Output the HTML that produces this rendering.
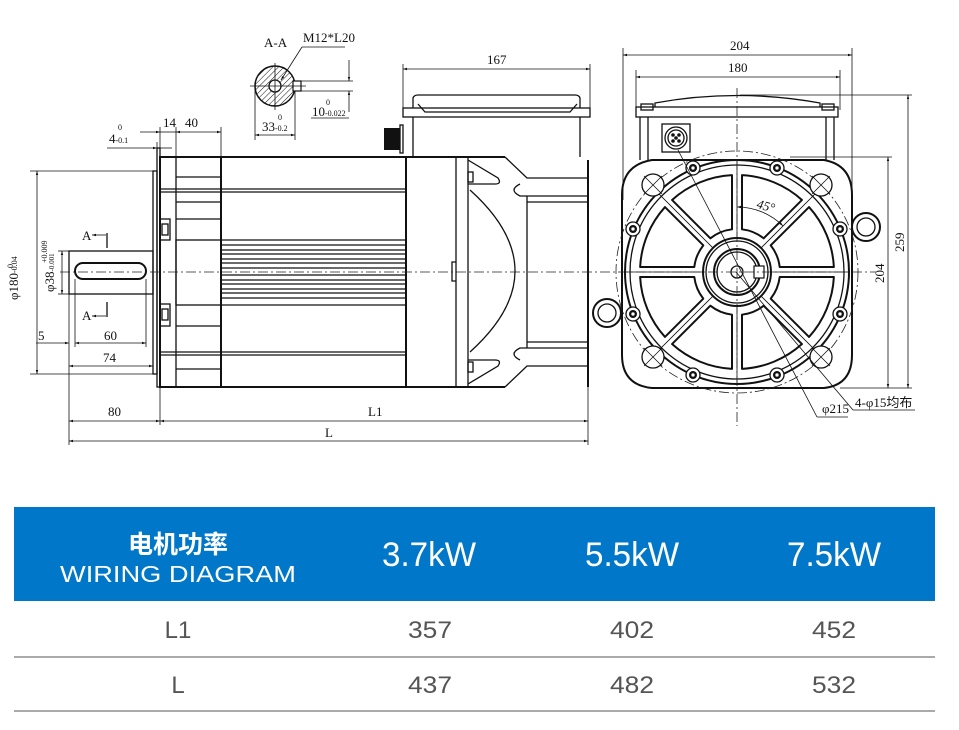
<!DOCTYPE html>
<html><head><meta charset="utf-8"><style>
html,body{margin:0;padding:0;background:#fff;}
svg{display:block;}
.l{fill:none;stroke:#111;stroke-width:1.3}
.t{fill:none;stroke:#111;stroke-width:2}
.th{fill:none;stroke:#111;stroke-width:0.8}
.c{fill:none;stroke:#222;stroke-width:0.8;stroke-dasharray:10 3 2 3}
.d{font-family:"Liberation Serif",serif;font-size:13px;fill:#111}
.s{font-family:"Liberation Serif",serif;font-size:8px;fill:#111}
</style></head><body>
<svg width="959" height="730" viewBox="0 0 959 730" xmlns="http://www.w3.org/2000/svg">
<defs>
<marker id="a" viewBox="0 0 10 10" refX="10" refY="5" markerWidth="8" markerHeight="5" orient="auto-start-reverse"><path d="M0 2 L10 5 L0 8z" fill="#111"/></marker>
<pattern id="h" width="4" height="4" patternUnits="userSpaceOnUse" patternTransform="rotate(45)"><line x1="0" y1="0" x2="0" y2="4" stroke="#111" stroke-width="1"/></pattern>
</defs>
<rect width="959" height="730" fill="#fff"/>

<!-- ===== SIDE VIEW ===== -->
<g>
<!-- shaft -->
<rect x="69" y="251" width="84" height="43" class="l"/>
<rect x="75" y="263" width="71" height="16" rx="8" class="t" stroke-width="1.5"/>
<!-- pilot / flange -->
<rect x="153" y="171" width="4" height="203" class="l"/>
<rect x="157" y="148" width="3" height="239" class="l"/>
<!-- front end bell -->
<rect x="160" y="157" width="246" height="230" class="t"/>
<line x1="176" y1="157" x2="176" y2="387" class="l"/>
<line x1="221" y1="157" x2="221" y2="387" class="t"/>
<line x1="160" y1="189" x2="406" y2="189" class="l"/>
<line x1="160" y1="192" x2="406" y2="192" class="l"/>
<line x1="160" y1="352" x2="406" y2="352" class="l"/>
<line x1="160" y1="355" x2="406" y2="355" class="l"/>
<line x1="176" y1="177" x2="221" y2="177" class="l"/>
<line x1="176" y1="202" x2="221" y2="202" class="l"/>
<line x1="176" y1="219" x2="221" y2="219" class="l"/>
<rect x="176" y="240" width="45" height="65" class="l"/>
<line x1="176" y1="326" x2="221" y2="326" class="l"/>
<line x1="176" y1="369" x2="221" y2="369" class="l"/>
<rect x="160" y="219" width="10" height="21" class="l"/><rect x="162" y="224" width="6" height="11" class="l"/>
<rect x="160" y="304" width="10" height="22" class="l"/><rect x="162" y="309" width="6" height="11" class="l"/>
<!-- fins -->
<g class="l">
<line x1="221" y1="240" x2="406" y2="240"/><line x1="221" y1="245" x2="406" y2="245"/>
<line x1="221" y1="250" x2="406" y2="250"/><line x1="221" y1="254" x2="406" y2="254"/>
<line x1="221" y1="259" x2="406" y2="259"/><line x1="221" y1="263" x2="406" y2="263"/>
<line x1="221" y1="268" x2="406" y2="268"/><line x1="221" y1="275" x2="406" y2="275"/>
<line x1="221" y1="280" x2="406" y2="280"/><line x1="221" y1="284" x2="406" y2="284"/>
<line x1="221" y1="289" x2="406" y2="289"/><line x1="221" y1="293" x2="406" y2="293"/>
<line x1="221" y1="298" x2="406" y2="298"/><line x1="221" y1="305" x2="406" y2="305"/>
</g>
<!-- rear section -->
<line x1="406" y1="157" x2="505" y2="157" class="t"/>
<line x1="406" y1="387" x2="505" y2="387" class="t"/>
<line x1="456" y1="157" x2="456" y2="387" class="l"/>
<line x1="468" y1="157" x2="468" y2="387" class="l"/>
<path d="M456 262 L452 262 L452 281 L456 281" class="l"/>
<path d="M468 160 L498 178 Q502 184 495 184 L468 184" class="l"/>
<rect x="468" y="172" width="5" height="10" class="l"/>
<path d="M468 384 L498 366 Q502 360 495 360 L468 360" class="l"/>
<rect x="468" y="362" width="5" height="10" class="l"/>
<path d="M505 157 L527 178 L588 178" class="l"/>
<path d="M505 387 L527 366 L588 366" class="l"/>
<path d="M520 184 Q508 190 520 196 L588 196" class="l"/>
<path d="M520 360 Q508 354 520 348 L588 348" class="l"/>
<path d="M527 196 L527 348" class="l"/>
<line x1="527" y1="202" x2="588" y2="202" class="l"/>
<line x1="527" y1="342" x2="588" y2="342" class="l"/>
<path d="M470 190 Q560 271 470 352" class="l"/>
<line x1="588" y1="160" x2="588" y2="387" class="t"/>
<!-- terminal box -->
<rect x="403" y="108" width="187" height="9" class="l"/>
<line x1="413" y1="117" x2="413" y2="157" class="l"/>
<line x1="580" y1="117" x2="580" y2="157" class="l"/>
<path d="M413 108 L413 98 Q414 95 418 95 L575 95 Q579 95 580 98 L580 108" class="l"/>
<path d="M418 104 L425 112 L570 112 L577 104" class="l"/>
<rect x="384" y="128" width="16" height="22" fill="#111"/>
<rect x="400" y="125" width="3" height="28" class="l"/>
<!-- centerline -->
<line x1="60" y1="272" x2="598" y2="272" class="c"/>
<!-- section marks -->
<text x="82" y="240" class="d" font-size="11">A</text><line x1="92" y1="235" x2="106" y2="235" class="th" marker-end="url(#a)" transform="rotate(180 99 235)"/><line x1="107" y1="233" x2="107" y2="248" class="l"/>
<text x="82" y="320" class="d" font-size="11">A</text><line x1="92" y1="316" x2="106" y2="316" class="th" marker-end="url(#a)" transform="rotate(180 99 316)"/><line x1="107" y1="302" x2="107" y2="317" class="l"/>
<!-- dims left -->
<g class="th">
<line x1="30" y1="171" x2="153" y2="171"/><line x1="30" y1="374" x2="153" y2="374"/>
<line x1="37" y1="171" x2="37" y2="374" marker-start="url(#a)" marker-end="url(#a)"/>
<line x1="58" y1="251" x2="69" y2="251"/><line x1="58" y1="294" x2="69" y2="294"/>
<line x1="62" y1="251" x2="62" y2="294" marker-start="url(#a)" marker-end="url(#a)"/>
<line x1="36" y1="343" x2="69" y2="343" marker-end="url(#a)"/>
<line x1="75" y1="279" x2="75" y2="347"/><line x1="146" y1="279" x2="146" y2="347"/>
<line x1="75" y1="343" x2="146" y2="343" marker-start="url(#a)" marker-end="url(#a)"/>
<line x1="69" y1="294" x2="69" y2="445"/><line x1="153" y1="374" x2="153" y2="370"/>
<line x1="69" y1="366" x2="153" y2="366" marker-start="url(#a)" marker-end="url(#a)"/>
<line x1="160" y1="387" x2="160" y2="425"/>
<line x1="69" y1="421" x2="160" y2="421" marker-start="url(#a)" marker-end="url(#a)"/>
<line x1="160" y1="421" x2="588" y2="421" marker-start="url(#a)" marker-end="url(#a)"/>
<line x1="588" y1="387" x2="588" y2="445"/>
<line x1="69" y1="441" x2="588" y2="441" marker-start="url(#a)" marker-end="url(#a)"/>
<!-- top dims -->
<line x1="107" y1="148" x2="157" y2="148" marker-end="url(#a)"/><line x1="160" y1="148" x2="172" y2="148"/>
<line x1="140" y1="132" x2="160" y2="132" marker-end="url(#a)"/>
<line x1="160" y1="132" x2="176" y2="132"/>
<line x1="176" y1="132" x2="221" y2="132" marker-start="url(#a)" marker-end="url(#a)"/>
<line x1="160" y1="127" x2="160" y2="148"/><line x1="157" y1="142" x2="157" y2="157"/><line x1="176" y1="127" x2="176" y2="157"/><line x1="221" y1="127" x2="221" y2="157"/>
<line x1="403" y1="64" x2="403" y2="108"/><line x1="590" y1="64" x2="590" y2="108"/>
<line x1="403" y1="69" x2="590" y2="69" marker-start="url(#a)" marker-end="url(#a)"/>
</g>
<text x="18" y="300" class="d" transform="rotate(-90 18 300)">φ180<tspan font-size="8" dy="-1">-0.04</tspan></text>
<text x="13" y="268" class="s" transform="rotate(-90 13 268)">0</text>
<text x="54" y="292" class="d" font-size="12" transform="rotate(-90 54 292)">φ38<tspan font-size="7">-0.001</tspan></text>
<text x="47" y="263" class="s" font-size="7" transform="rotate(-90 47 263)">+0.009</text>
<text x="38" y="340" class="d">5</text>
<text x="104" y="340" class="d">60</text>
<text x="103" y="362" class="d">74</text>
<text x="108" y="416" class="d">80</text>
<text x="368" y="416" class="d">L1</text>
<text x="325" y="437" class="d">L</text>
<text x="109" y="143" class="d">4<tspan font-size="8">-0.1</tspan></text><text x="118" y="130" class="s">0</text>
<text x="163" y="127" class="d">14</text>
<text x="185" y="127" class="d">40</text>
<text x="487" y="64" class="d">167</text>
</g>

<!-- ===== SECTION A-A ===== -->
<g>
<text x="264" y="47" class="d" font-size="12">A-A</text>
<text x="303" y="42" class="d" font-size="11">M12*L20</text>
<line x1="302" y1="47" x2="345" y2="47" class="th"/>
<line x1="302" y1="47" x2="281" y2="80" class="th" marker-end="url(#a)"/>
<circle cx="275" cy="86" r="20" fill="url(#h)" stroke="#111" stroke-width="1.5"/>
<circle cx="275" cy="86" r="6" fill="#fff" stroke="#111" stroke-width="1.3"/>
<rect x="293" y="81" width="8" height="10" fill="#fff" stroke="#111" stroke-width="1.2"/>
<line x1="250" y1="86" x2="306" y2="86" class="th"/>
<line x1="275" y1="63" x2="275" y2="110" class="th"/>
<g class="th">
<line x1="301" y1="81" x2="353" y2="81"/><line x1="301" y1="91" x2="353" y2="91"/>
<line x1="349" y1="60" x2="349" y2="81" marker-end="url(#a)"/>
<line x1="349" y1="112" x2="349" y2="91" marker-end="url(#a)"/>
<line x1="311" y1="118" x2="349" y2="118"/>
<line x1="255" y1="86" x2="255" y2="140"/><line x1="295" y1="91" x2="295" y2="140"/>
<line x1="255" y1="135" x2="295" y2="135" marker-start="url(#a)" marker-end="url(#a)"/>
</g>
<text x="312" y="116" class="d">10<tspan font-size="8">-0.022</tspan></text><text x="326" y="105" class="s">0</text>
<text x="262" y="131" class="d">33<tspan font-size="8">-0.2</tspan></text><text x="278" y="120" class="s">0</text>
</g>

<!-- ===== END VIEW ===== -->
<g>
<g class="th">
<line x1="623" y1="48" x2="623" y2="200"/><line x1="852" y1="48" x2="852" y2="200"/>
<line x1="623" y1="55" x2="852" y2="55" marker-start="url(#a)" marker-end="url(#a)"/>
<line x1="636" y1="70" x2="636" y2="110"/><line x1="840" y1="70" x2="840" y2="110"/>
<line x1="636" y1="77" x2="840" y2="77" marker-start="url(#a)" marker-end="url(#a)"/>
<line x1="740" y1="95" x2="912" y2="95"/><line x1="790" y1="157" x2="892" y2="157"/><line x1="840" y1="388" x2="912" y2="388"/>
<line x1="888" y1="157" x2="888" y2="388" marker-start="url(#a)" marker-end="url(#a)"/>
<line x1="908" y1="95" x2="908" y2="388" marker-start="url(#a)" marker-end="url(#a)"/>
</g>
<text x="730" y="50" class="d">204</text>
<text x="728" y="72" class="d">180</text>
<text x="884" y="283" class="d" transform="rotate(-90 884 283)">204</text>
<text x="904" y="252" class="d" transform="rotate(-90 904 252)">259</text>
<!-- terminal box -->
<rect x="636" y="107" width="202" height="10" class="l"/>
<path d="M655 107 L655 103 Q737 88 820 103 L820 107" class="l"/>
<rect x="641" y="104" width="12" height="6" class="l"/><rect x="822" y="104" width="12" height="6" class="l"/>
<line x1="640" y1="117" x2="640" y2="160" class="l"/><line x1="648" y1="117" x2="648" y2="160" class="l"/>
<line x1="826" y1="117" x2="826" y2="160" class="l"/><line x1="834" y1="117" x2="834" y2="160" class="l"/>
<rect x="662" y="124" width="28" height="28" class="l"/>
<circle cx="676" cy="138" r="11" class="l"/><circle cx="676" cy="138" r="8" class="l"/>
<circle cx="673" cy="135" r="1.8" fill="#111"/><circle cx="679" cy="135" r="1.8" fill="#111"/><circle cx="673" cy="141" r="1.8" fill="#111"/><circle cx="679" cy="141" r="1.8" fill="#111"/><circle cx="676" cy="138" r="1.8" fill="#111"/>
<!-- housing -->
<path d="M652 160 L824 160 Q852 165 852 195 L852 355 Q852 385 824 388 L652 388 Q622 385 622 355 L622 195 Q622 165 652 160Z" class="t" stroke-width="1.6"/>
<circle cx="737" cy="272" r="121" class="c"/>
<circle cx="737" cy="272" r="112" class="t" stroke-width="1.6"/>
<circle cx="737" cy="272" r="107" class="l"/>
<g id="win" class="t" stroke-width="1.5" stroke-linejoin="round"></g>
<g id="spk" class="th"></g>
<circle cx="737" cy="272" r="34" class="t" stroke-width="2.5"/>
<circle cx="737" cy="272" r="31" class="l"/>
<circle cx="737" cy="272" r="23" class="t"/>
<circle cx="737" cy="272" r="20" class="l"/>
<circle cx="737" cy="272" r="6" class="l"/>
<rect x="754" y="266" width="10" height="12" fill="#fff" stroke="#111" stroke-width="1.2"/>
<g id="holes"></g>
<!-- lifting eyes -->
<circle cx="866" cy="227" r="14" class="t"/><circle cx="866" cy="227" r="9" class="l"/>
<circle cx="607" cy="313" r="14" class="t"/><circle cx="607" cy="313" r="9" class="l"/>
<!-- centerlines -->
<line x1="600" y1="272" x2="876" y2="272" class="c"/>
<line x1="737" y1="88" x2="737" y2="426" class="c"/>
<!-- 45 deg -->
<path d="M737 207 A65 65 0 0 1 783 226" class="th" marker-start="url(#a)" marker-end="url(#a)"/>
<text x="757" y="210" class="d" font-style="italic" transform="rotate(15 765 205)">45°</text>
<!-- leaders -->
<line x1="817" y1="417" x2="678" y2="150" class="th"/>
<line x1="817" y1="417" x2="848" y2="417" class="th"/>
<text x="822" y="413" class="d" font-size="12">φ215</text>
<line x1="853" y1="410" x2="736" y2="272" class="th"/>
<line x1="853" y1="410" x2="915" y2="410" class="th"/>
<text x="855" y="407" class="d" font-family="Liberation Serif,'Noto Serif CJK SC',serif" font-size="12">4-φ15均布</text>
</g>

<!-- ===== TABLE ===== -->
<rect x="14" y="507" width="921" height="94" fill="#0077c8"/>
<g font-family="Liberation Sans,'Noto Sans CJK SC',sans-serif" fill="#fff" text-anchor="middle">
<text x="178" y="553" font-size="25" font-weight="bold">电机功率</text>
<text x="178" y="582" font-size="23" textLength="236" lengthAdjust="spacingAndGlyphs">WIRING DIAGRAM</text>
<text x="429" y="566" font-size="34" textLength="94" lengthAdjust="spacingAndGlyphs">3.7kW</text>
<text x="632" y="566" font-size="34" textLength="94" lengthAdjust="spacingAndGlyphs">5.5kW</text>
<text x="834" y="566" font-size="34" textLength="94" lengthAdjust="spacingAndGlyphs">7.5kW</text>
</g>
<g font-family="Liberation Sans,sans-serif" fill="#555" font-size="24" text-anchor="middle">
<text x="178" y="638">L1</text>
<text x="430" y="638" textLength="44" lengthAdjust="spacingAndGlyphs">357</text>
<text x="632" y="638" textLength="44" lengthAdjust="spacingAndGlyphs">402</text>
<text x="834" y="638" textLength="44" lengthAdjust="spacingAndGlyphs">452</text>
<text x="178" y="693">L</text>
<text x="430" y="693" textLength="44" lengthAdjust="spacingAndGlyphs">437</text>
<text x="632" y="693" textLength="44" lengthAdjust="spacingAndGlyphs">482</text>
<text x="834" y="693" textLength="44" lengthAdjust="spacingAndGlyphs">532</text>
</g>
<rect x="14" y="656" width="921" height="2" fill="#aaa"/>
<rect x="14" y="710" width="921" height="2" fill="#aaa"/>
</svg>
<script>
(function(){
var cx=737,cy=272,NS="http://www.w3.org/2000/svg";
function P(r,a,off){var c=Math.cos(a),s=Math.sin(a);return [cx+r*c-off*s,cy+r*s+off*c];}
var win=document.getElementById('win'),spk=document.getElementById('spk'),holes=document.getElementById('holes');
var w=5,ri=40,ro=100;
for(var k=0;k<8;k++){
 var a1=k*Math.PI/4,a2=(k+1)*Math.PI/4;
 var r1=Math.sqrt(ri*ri-w*w)+3, r2=Math.sqrt(ro*ro-w*w)-3;
 var p1=P(r1,a1,w),p2=P(r2,a1,w),p3=P(r2,a2,-w),p4=P(r1,a2,-w);
 var d="M"+p1+" L"+p2+" A"+(ro-3)+" "+(ro-3)+" 0 0 1 "+p3+" L"+p4+" A"+(ri+3)+" "+(ri+3)+" 0 0 0 "+p1+"Z";
 var e=document.createElementNS(NS,'path');e.setAttribute('d',d.replace(/,/g,' '));win.appendChild(e);
 var q1=P(34,a1,0),q2=P(112,a1,0);
 var l=document.createElementNS(NS,'line');l.setAttribute('x1',q1[0]);l.setAttribute('y1',q1[1]);l.setAttribute('x2',q2[0]);l.setAttribute('y2',q2[1]);spk.appendChild(l);
}
function circ(x,y,r,sw){var c=document.createElementNS(NS,'circle');c.setAttribute('cx',x);c.setAttribute('cy',y);c.setAttribute('r',r);c.setAttribute('fill','#fff');c.setAttribute('stroke','#111');c.setAttribute('stroke-width',sw);holes.appendChild(c);}
function ln(x1,y1,x2,y2){var l=document.createElementNS(NS,'line');l.setAttribute('x1',x1);l.setAttribute('y1',y1);l.setAttribute('x2',x2);l.setAttribute('y2',y2);l.setAttribute('stroke','#111');l.setAttribute('stroke-width','0.8');holes.appendChild(l);}
[[653,185],[821,185],[653,357],[821,357]].forEach(function(p){circ(p[0],p[1],11,1.3);ln(p[0]-9,p[1]-9,p[0]+9,p[1]+9);ln(p[0]-9,p[1]+9,p[0]+9,p[1]-9);});
[[693,168],[777,168],[633,229],[633,314],[840,229],[840,314],[693,375],[777,375]].forEach(function(p){circ(p[0],p[1],7,1.3);var c=document.createElementNS(NS,'circle');c.setAttribute('cx',p[0]);c.setAttribute('cy',p[1]);c.setAttribute('r',4);c.setAttribute('fill','#111');holes.appendChild(c);circ(p[0],p[1],2,0.5);});
})();
</script>
</body></html>
